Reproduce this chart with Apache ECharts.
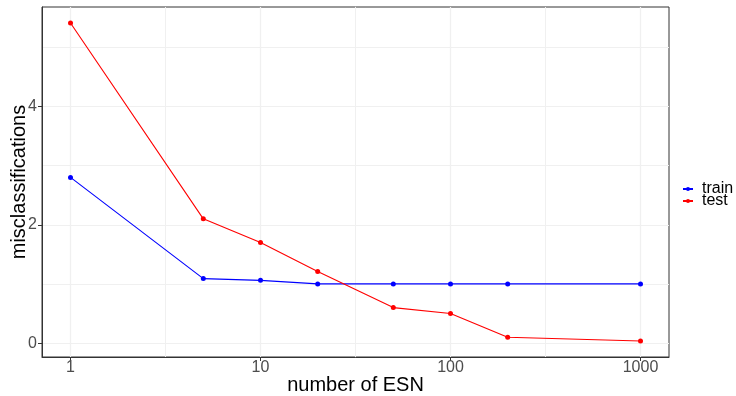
<!DOCTYPE html>
<html><head><meta charset="utf-8">
<script src="https://cdn.jsdelivr.net/npm/echarts@6/dist/echarts.min.js"></script>
<style>html,body{margin:0;padding:0;background:#fff}#c{width:736px;height:396px}</style>
</head><body><div id="c"></div>
<script>
const esnCounts = [1, 5, 10, 20, 50, 100, 200, 1000];
const trainErrors = [2.80, 1.09, 1.06, 1.00, 1.00, 1.00, 1.00, 1.00];
const testErrors = [5.41, 2.10, 1.70, 1.21, 0.60, 0.50, 0.10, 0.035];
const seriesNames = ['train', 'test'];
const xTitle = 'number of ESN';
const yTitle = 'misclassifications';

const xMin = Math.pow(10, -0.15), xMax = Math.pow(10, 3.15);
const yMin = -0.235, yMax = 5.68;
const font = 'Liberation Sans, Arial, sans-serif';

const chart = echarts.init(document.getElementById('c'), null, {renderer: 'canvas'});
const mk = arr => esnCounts.map((x, i) => [x, arr[i]]);
const hidden = {axisLine: {show: false}, axisTick: {show: false}, axisLabel: {show: false}};

chart.setOption({
  animation: false,
  backgroundColor: '#ffffff',
  grid: {left: 42, top: 7, width: 627, height: 350, show: true, borderColor: '#333333', borderWidth: 1,
         backgroundColor: 'transparent', containLabel: false, outerBoundsMode: 'none'},
  xAxis: [{
    type: 'log', logBase: 10, min: xMin, max: xMax, position: 'bottom',
    axisLine: {show: true, onZero: false, lineStyle: {color: '#333333', width: 1}},
    axisTick: {show: true, length: 4, lineStyle: {color: '#333333', width: 1}},
    axisLabel: {color: '#4d4d4d', fontSize: 16, fontFamily: font, margin: 3, showMinLabel: false, showMaxLabel: false,
                formatter: v => String(v)},
    splitLine: {show: true, showMinLine: false, showMaxLine: false, lineStyle: {color: '#ebebeb', width: 1.2}},
    name: xTitle, nameLocation: 'middle', nameGap: 18, nameMoveOverlap: false,
    nameTextStyle: {color: '#000000', fontSize: 20, fontFamily: font, verticalAlign: 'top'}
  }, Object.assign({
    type: 'value', min: Math.log10(xMin), max: Math.log10(xMax), minInterval: 0.5, maxInterval: 0.5, position: 'top',
    splitLine: {show: true, showMinLine: false, showMaxLine: false, lineStyle: {color: '#f0f0f0', width: 1}}
  }, hidden)],
  yAxis: [{
    type: 'value', min: yMin, max: yMax, minInterval: 2, maxInterval: 2, position: 'left',
    axisLine: {show: true, onZero: false, lineStyle: {color: '#333333', width: 1}},
    axisTick: {show: true, length: 4, lineStyle: {color: '#333333', width: 1}},
    axisLabel: {color: '#4d4d4d', fontSize: 16, fontFamily: font, margin: 5, showMinLabel: false, showMaxLabel: false},
    splitLine: {show: true, showMinLine: false, showMaxLine: false, lineStyle: {color: '#ebebeb', width: 1.2}},
    name: yTitle, nameLocation: 'middle', nameGap: 13, nameRotate: 90, nameMoveOverlap: false,
    nameTextStyle: {color: '#000000', fontSize: 20, fontFamily: font, verticalAlign: 'bottom'}
  }, Object.assign({
    type: 'value', min: yMin, max: yMax, minInterval: 1, maxInterval: 1, position: 'right',
    splitLine: {show: true, showMinLine: false, showMaxLine: false, lineStyle: {color: '#f0f0f0', width: 1}}
  }, hidden)],
  legend: {
    orient: 'vertical', left: 682, top: 181, padding: 0, itemWidth: 10, itemHeight: 5, itemGap: -4,
    data: seriesNames,
    textStyle: {color: '#000000', fontSize: 16, fontFamily: font, padding: [0, 0, 0, 4]}
  },
  series: [
    {name: seriesNames[0], type: 'line', xAxisIndex: 0, yAxisIndex: 0, data: mk(trainErrors), color: '#0000ff',
     symbol: 'circle', symbolSize: 5, lineStyle: {width: 1.1, color: '#0000ff'}, itemStyle: {color: '#0000ff'}, z: 5},
    {name: seriesNames[1], type: 'line', xAxisIndex: 0, yAxisIndex: 0, data: mk(testErrors), color: '#ff0000',
     symbol: 'circle', symbolSize: 5, lineStyle: {width: 1.1, color: '#ff0000'}, itemStyle: {color: '#ff0000'}, z: 5}
  ]
});
</script>
</body></html>
